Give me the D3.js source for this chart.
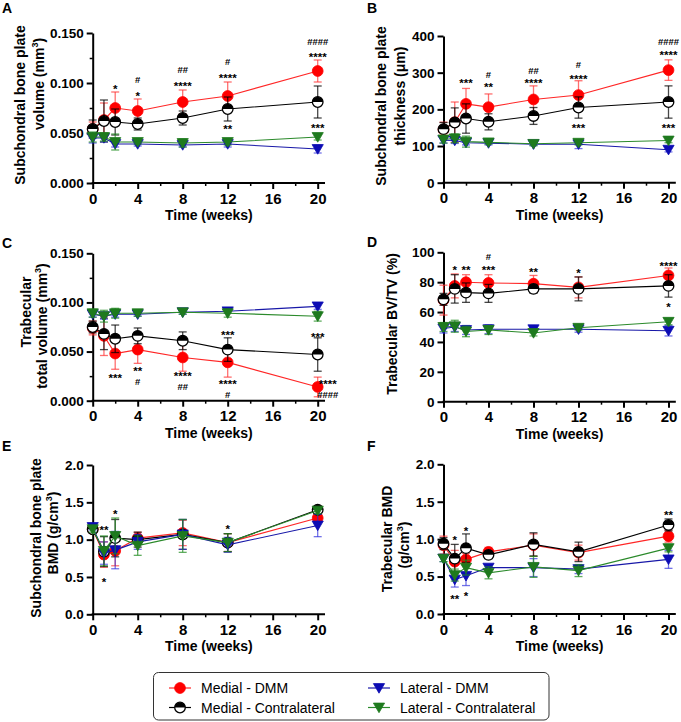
<!DOCTYPE html>
<html><head><meta charset="utf-8">
<script src="https://cdn.jsdelivr.net/npm/d3@7"></script>
<style>body{margin:0;background:#fff} svg{display:block} text{font-family:'Liberation Sans',Arial,sans-serif}</style>
</head><body><svg id="c" width="681" height="722"></svg>
<script>
// ---------------- DATA ----------------
const weeks = [0, 1, 2, 4, 8, 12, 20];
const seriesNames = ["Medial - DMM", "Medial - Contralateral", "Lateral - DMM", "Lateral - Contralateral"];

// A: Subchondral bone plate volume (mm3)
const aRed = [0.054, 0.063, 0.075, 0.072, 0.081, 0.087, 0.112];
const aRedErr = [0.007, 0.017, 0.016, 0.012, 0.012, 0.014, 0.011];
const aBlack = [0.054, 0.062, 0.061, 0.059, 0.065, 0.074, 0.081];
const aBlackErr = [0.009, 0.021, 0.013, 0.006, 0.007, 0.012, 0.016];
const aBlue = [0.045, 0.045, 0.039, 0.039, 0.038, 0.039, 0.034];
const aBlueErr = [0.005, 0.004, 0.003, 0.002, 0.002, 0.003, 0.004];
const aGreen = [0.046, 0.046, 0.041, 0.041, 0.040, 0.041, 0.046];
const aGreenErr = [0.005, 0.004, 0.008, 0.002, 0.004, 0.003, 0.003];
const aTicks = [0, 0.05, 0.10, 0.15];
const aAnn = [[2, 0.097, "*"], [4, 0.1037, "#"], [4, 0.090, "*"], [8, 0.113, "##"], [8, 0.0997, "****"],
  [12, 0.1213, "#"], [12, 0.108, "****"], [12, 0.0565, "**"], [20, 0.1413, "####"], [20, 0.129, "****"], [20, 0.058, "***"]];

// B: Subchondral bone plate thickness (um)
const bRed = [145, 165, 215, 206, 227, 239, 307];
const bRedErr = [20, 55, 42, 36, 37, 39, 28];
const bBlack = [146, 164, 175, 166, 182, 205, 220];
const bBlackErr = [18, 40, 40, 22, 23, 29, 44];
const bBlue = [116, 115, 109, 108, 105, 105, 90];
const bBlueErr = [8, 8, 6, 5, 4, 12, 6];
const bGreen = [118, 121, 112, 110, 106, 109, 115];
const bGreenErr = [10, 12, 15, 5, 5, 6, 6];
const bTicks = [0, 100, 200, 300, 400];
const bAnn = [[2, 280, "***"], [4, 296, "#"], [4, 269, "**"], [8, 307, "##"], [8, 280, "****"],
  [12, 321, "#"], [12, 291, "****"], [12, 157, "***"], [20, 385, "####"], [20, 355, "****"], [20, 157, "***"]];

// C: Trabecular total volume (mm3)
const cRed = [0.074, 0.066, 0.048, 0.052, 0.044, 0.039, 0.014];
const cRedErr = [0.007, 0.020, 0.016, 0.014, 0.014, 0.015, 0.010];
const cBlack = [0.075, 0.068, 0.063, 0.066, 0.061, 0.052, 0.047];
const cBlackErr = [0.006, 0.016, 0.014, 0.008, 0.009, 0.012, 0.017];
const cBlue = [0.088, 0.086, 0.088, 0.088, 0.090, 0.091, 0.096];
const cBlueErr = [0.003, 0.003, 0.003, 0.002, 0.002, 0.002, 0.003];
const cGreen = [0.089, 0.086, 0.089, 0.089, 0.090, 0.089, 0.086];
const cGreenErr = [0.004, 0.006, 0.005, 0.003, 0.002, 0.004, 0.005];
const cTicks = [0, 0.05, 0.10, 0.15];
const cAnn = [[2, 0.026, "***"], [4, 0.0333, "**"], [4, 0.019, "#"], [8, 0.0282, "****"], [8, 0.0139, "##"],
  [12, 0.070, "***"], [12, 0.020, "****"], [12, 0.0058, "#"], [20, 0.068, "***"], [20.9, 0.020, "****"], [20.9, 0.0058, "####"]];

// D: Trabecular BV/TV (%)
const dRed = [68, 77.5, 80, 79.5, 79, 76.5, 84.5];
const dRedErr = [10, 8, 5, 5.5, 5.5, 7, 5];
const dBlack = [68.5, 75.5, 73, 72.5, 75.5, 75.5, 77.5];
const dBlackErr = [4, 9.5, 6.5, 6, 3, 8, 7.5];
const dBlue = [49, 50, 48, 48.5, 48.5, 48.5, 47.5];
const dBlueErr = [3, 3, 3, 3, 2, 2, 3.5];
const dGreen = [50, 50.5, 47, 48, 46, 49.5, 53.5];
const dGreenErr = [3, 4, 3.5, 3, 2, 1.5, 2];
const dTicks = [0, 20, 40, 60, 80, 100];
const dAnn = [[1, 90.4, "*"], [2, 90, "**"], [4, 97, "#"], [4, 90, "***"], [8, 88.6, "**"], [12, 88.2, "*"],
  [20, 93, "****"], [20, 65.2, "*"]];

// E: Subchondral bone plate BMD (g/cm3)
const eRed = [1.14, 0.80, 0.85, 1.02, 1.09, 0.96, 1.29];
const eRedErr = [0.05, 0.17, 0.20, 0.08, 0.17, 0.12, 0.05];
const eBlack = [1.14, 0.84, 1.02, 1.00, 1.07, 0.96, 1.40];
const eBlackErr = [0.04, 0.20, 0.25, 0.10, 0.20, 0.12, 0.04];
const eBlue = [1.17, 0.82, 0.86, 0.97, 1.07, 0.93, 1.19];
const eBlueErr = [0.04, 0.15, 0.25, 0.10, 0.20, 0.10, 0.15];
const eGreen = [1.14, 0.85, 1.05, 0.92, 1.05, 0.96, 1.39];
const eGreenErr = [0.04, 0.20, 0.24, 0.13, 0.22, 0.12, 0.04];
const eTicks = [0, 0.5, 1.0, 1.5, 2.0];
const eAnn = [[1, 1.165, "**"], [1, 0.469, "*"], [2, 1.388, "*"], [12, 1.1875, "*"]];

// F: Trabecular BMD (g/cm3)
const fRed = [0.92, 0.70, 0.73, 0.83, 0.92, 0.82, 1.04];
const fRedErr = [0.12, 0.15, 0.08, 0.06, 0.15, 0.10, 0.08];
const fBlack = [0.94, 0.74, 0.88, 0.79, 0.93, 0.83, 1.19];
const fBlackErr = [0.08, 0.19, 0.19, 0.05, 0.155, 0.13, 0.08];
const fBlue = [0.74, 0.46, 0.51, 0.62, 0.62, 0.60, 0.73];
const fBlueErr = [0.04, 0.10, 0.13, 0.04, 0.12, 0.06, 0.12];
const fGreen = [0.74, 0.52, 0.62, 0.55, 0.63, 0.58, 0.88];
const fGreenErr = [0.04, 0.08, 0.10, 0.08, 0.14, 0.08, 0.05];
const fTicks = [0, 0.5, 1.0, 1.5, 2.0];
const fAnn = [[1, 1.033, "*"], [1, 0.24, "**"], [2, 1.145, "*"], [2, 0.276, "*"], [20, 1.367, "**"]];

const xTicks = [0, 4, 8, 12, 16, 20];
const xMinor = [2, 6, 10, 14, 18];

// ---------------- STYLE / LAYOUT ----------------
const STY = [
  { line: "#ff2626", err: "rgba(255,50,50,0.7)", kind: "circle", fill: "#ff0000" },
  { line: "#000000", err: "rgba(0,0,0,0.72)", kind: "half", fill: "#000" },
  { line: "#1818a8", err: "rgba(40,40,220,0.65)", kind: "tri", fill: "#0c0cb4" },
  { line: "#2b8a2b", err: "rgba(30,140,30,0.7)", kind: "tri", fill: "#1e7a1e" }
];
const COLS = [{ x0: 92.7, x1: 317.7 }, { x0: 443.5, x1: 668.5 }];
const fmt3 = d3.format(".3f"), fmt1 = d3.format(".1f"), fmt0 = d3.format("d");

const panels = [
  { id: "A", col: 0, yb: 183, yt: 33, dom: [0, 0.15], ticks: aTicks, minor: [0.025, 0.075, 0.125], fmt: fmt3,
    series: [[aRed, aRedErr], [aBlack, aBlackErr], [aBlue, aBlueErr], [aGreen, aGreenErr]], ann: aAnn,
    letter: [2, 12.5],
    title: [{ x: 25, y: 105, parts: [["Subchondral bone plate"]] }, { x: 44, y: 84, parts: [["volume (mm"], ["3", 1], [")"]] }] },
  { id: "B", col: 1, yb: 182.7, yt: 36, dom: [0, 400], ticks: bTicks, minor: [], fmt: fmt0,
    series: [[bRed, bRedErr], [bBlack, bBlackErr], [bBlue, bBlueErr], [bGreen, bGreenErr]], ann: bAnn,
    letter: [367, 12.5],
    title: [{ x: 386, y: 106, parts: [["Subchondral bone plate"]] }, { x: 405, y: 96, parts: [["thickness (\u03bcm)"]] }] },
  { id: "C", col: 0, yb: 400.7, yt: 253.3, dom: [0, 0.15], ticks: cTicks, minor: [0.025, 0.075, 0.125], fmt: fmt3,
    series: [[cRed, cRedErr], [cBlack, cBlackErr], [cBlue, cBlueErr], [cGreen, cGreenErr]], ann: cAnn,
    letter: [2, 248],
    title: [{ x: 31, y: 312, parts: [["Trabecular"]] }, { x: 47, y: 326, parts: [["total volume (mm"], ["3", 1], [")"]] }] },
  { id: "D", col: 1, yb: 401.7, yt: 252.3, dom: [0, 100], ticks: dTicks, minor: [], fmt: fmt0,
    series: [[dRed, dRedErr], [dBlack, dBlackErr], [dBlue, dBlueErr], [dGreen, dGreenErr]], ann: dAnn,
    letter: [367, 247],
    title: [{ x: 397, y: 324, parts: [["Trabecular BV/TV (%)"]] }] },
  { id: "E", col: 0, yb: 614.3, yt: 465, dom: [0, 2], ticks: eTicks, minor: [], fmt: fmt1,
    series: [[eRed, eRedErr], [eBlack, eBlackErr], [eBlue, eBlueErr], [eGreen, eGreenErr]], ann: eAnn,
    letter: [2, 451],
    title: [{ x: 41, y: 538, parts: [["Subchondral bone plate"]] }, { x: 58, y: 533, parts: [["BMD (g/cm"], ["3", 1], [")"]] }] },
  { id: "F", col: 1, yb: 614, yt: 464.3, dom: [0, 2], ticks: fTicks, minor: [], fmt: fmt1,
    series: [[fRed, fRedErr], [fBlack, fBlackErr], [fBlue, fBlueErr], [fGreen, fGreenErr]], ann: fAnn,
    letter: [367, 451],
    title: [{ x: 392, y: 539, parts: [["Trabecular BMD"]] }, { x: 409, y: 545, parts: [["(g/cm"], ["3", 1], [")"]] }] }
];

const svg = d3.select("#c");

function drawMarker(g, kind, sty) {
  if (kind === "circle") {
    g.append("circle").attr("r", 5.4).attr("fill", sty.fill).attr("stroke", sty.fill).attr("stroke-width", 0.8);
  } else if (kind === "half") {
    g.append("circle").attr("r", 5.3).attr("fill", "#fff").attr("stroke", "#000").attr("stroke-width", 1.3);
    g.append("path").attr("d", "M-5.3,0 A5.3,5.3 0 0 1 5.3,0 Z").attr("fill", "#000");
  } else {
    g.append("path").attr("d", "M-5.6,-4.4 L5.6,-4.4 L0,5.2 Z").attr("fill", sty.fill).attr("stroke", sty.fill).attr("stroke-width", 0.8).attr("stroke-linejoin", "round");
  }
}

panels.forEach(p => {
  const col = COLS[p.col];
  const x = d3.scaleLinear().domain([0, 20]).range([col.x0, col.x1]);
  const y = d3.scaleLinear().domain(p.dom).range([p.yb, p.yt]);
  const g = svg.append("g");

  // axes
  const ya = g.append("g").attr("transform", `translate(${x(0)},0)`)
    .call(d3.axisLeft(y).tickValues(p.ticks).tickFormat(p.fmt).tickSize(6).tickSizeOuter(0).tickPadding(3));
  ya.select(".domain").attr("stroke-width", 2).attr("stroke", "#000");
  ya.selectAll(".tick line").attr("stroke-width", 2);
  ya.selectAll(".tick text").attr("font-size", 13.5).attr("font-weight", "bold").attr("fill", "#000")
    .attr("font-family", "'Liberation Sans',Arial,sans-serif");
  if (p.minor.length) {
    const ym = g.append("g").attr("transform", `translate(${x(0)},0)`)
      .call(d3.axisLeft(y).tickValues(p.minor).tickFormat("").tickSize(3).tickSizeOuter(0));
    ym.select(".domain").remove();
    ym.selectAll(".tick line").attr("stroke-width", 1.5);
  }
  const xa = g.append("g").attr("transform", `translate(0,${y(p.dom[0])})`)
    .call(d3.axisBottom(x).tickValues(xTicks).tickSize(6).tickSizeOuter(0).tickPadding(4));
  xa.select(".domain").remove();
  xa.selectAll(".tick line").attr("stroke-width", 2);
  xa.selectAll(".tick text").attr("font-size", 15).attr("font-weight", "bold").attr("fill", "#000")
    .attr("font-family", "'Liberation Sans',Arial,sans-serif");
  const xm = g.append("g").attr("transform", `translate(0,${y(p.dom[0])})`)
    .call(d3.axisBottom(x).tickValues(xMinor).tickFormat("").tickSize(3).tickSizeOuter(0));
  xm.select(".domain").remove();
  xm.selectAll(".tick line").attr("stroke-width", 1.5);
  g.append("line").attr("x1", x(0) - 1).attr("x2", x(20.65)).attr("y1", y(p.dom[0])).attr("y2", y(p.dom[0]))
    .attr("stroke", "#000").attr("stroke-width", 2);

  g.append("text").attr("x", (x(0) + x(20.65)) / 2).attr("y", y(p.dom[0]) + 37)
    .attr("text-anchor", "middle").attr("font-size", 14).attr("font-weight", "bold").text("Time (weeks)");

  // y titles
  p.title.forEach(t => {
    const tx = g.append("text").attr("transform", `translate(${t.x},${t.y}) rotate(-90)`)
      .attr("text-anchor", "middle").attr("font-size", 14).attr("font-weight", "bold");
    let sup = false;
    t.parts.forEach(pt => {
      const ts = tx.append("tspan").text(pt[0]);
      if (pt[1]) { ts.attr("dy", -6).attr("font-size", 9); sup = true; }
      else if (sup) { ts.attr("dy", 6); sup = false; }
    });
  });

  // letter
  svg.append("text").attr("x", p.letter[0]).attr("y", p.letter[1]).attr("font-size", 14).attr("font-weight", "bold").text(p.id);

  // series
  p.series.forEach((s, si) => {
    const sty = STY[si];
    const vals = s[0], errs = s[1];
    const pts = weeks.map((w, i) => ({ w, v: vals[i], e: errs[i] }));
    g.append("path").datum(pts).attr("fill", "none").attr("stroke", sty.line).attr("stroke-width", 1.1)
      .attr("d", d3.line().x(d => x(d.w)).y(d => y(d.v)));
    const eb = g.append("g").attr("stroke", sty.err).attr("stroke-width", 1.3).attr("fill", "none");
    pts.forEach(d => {
      const cx = x(d.w), t = y(d.v + d.e), b = y(d.v - d.e);
      eb.append("line").attr("x1", cx).attr("x2", cx).attr("y1", t).attr("y2", b);
      eb.append("line").attr("x1", cx - 4).attr("x2", cx + 4).attr("y1", t).attr("y2", t);
      eb.append("line").attr("x1", cx - 4).attr("x2", cx + 4).attr("y1", b).attr("y2", b);
    });
    pts.forEach(d => {
      const mg = g.append("g").attr("transform", `translate(${x(d.w)},${y(d.v)})`);
      drawMarker(mg, sty.kind, sty);
    });
  });

  // annotations
  p.ann.forEach(a => {
    const isStar = a[2].indexOf("*") >= 0;
    const fs = isStar ? 11.5 : 9.5;
    const off = isStar ? 0.6 * fs : 0.36 * fs;
    g.append("text").attr("x", x(a[0])).attr("y", y(a[1]) + off).attr("text-anchor", "middle")
      .attr("font-size", fs).attr("font-weight", "bold").text(a[2]);
  });
});

// legend
const lg = svg.append("g");
lg.append("rect").attr("x", 153.5).attr("y", 672.5).attr("width", 395.5).attr("height", 47.5).attr("rx", 5)
  .attr("fill", "#fff").attr("stroke", "#333").attr("stroke-width", 1);
const legPos = [[180, 688], [180, 707.5], [379, 688], [379, 707.5]];
seriesNames.forEach((name, i) => {
  const sty = STY[i];
  const [lx, ly] = legPos[i];
  lg.append("line").attr("x1", lx - 11).attr("x2", lx + 11).attr("y1", ly).attr("y2", ly).attr("stroke", sty.line).attr("stroke-width", 1.2);
  const mg = lg.append("g").attr("transform", `translate(${lx},${ly})`);
  drawMarker(mg, sty.kind, sty);
  lg.append("text").attr("x", lx + 21).attr("y", ly + 5).attr("font-size", 14).text(name);
});
</script></body></html>
